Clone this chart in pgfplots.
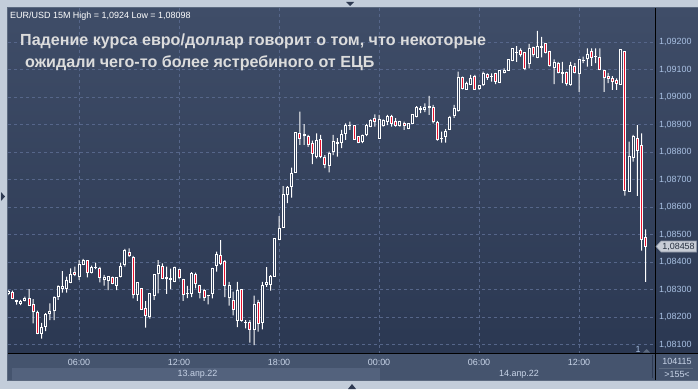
\documentclass[border=0pt]{standalone}
\usepackage{pgfplots}
\pgfplotsset{compat=1.18}
\usepackage{pgfplotstable}
\usepackage{fontspec}
\setmainfont{Liberation Sans}

\definecolor{framec}{HTML}{C3CDDA}
\definecolor{framebd}{HTML}{5C6A80}
\definecolor{plottop}{HTML}{3F4D68}
\definecolor{plotbot}{HTML}{2B3852}
\definecolor{panelc}{HTML}{45546E}
\definecolor{datebandc}{HTML}{53627D}
\definecolor{gridc}{HTML}{56668A}
\definecolor{candlered}{HTML}{E8112D}
\definecolor{hollowc}{HTML}{34425D}
\definecolor{ticklbl}{HTML}{A9C1E3}
\definecolor{timelbl}{HTML}{C8D4E8}
\definecolor{notec}{HTML}{DCDCDC}
\definecolor{tagc}{HTML}{C8CDD6}
\definecolor{tagbd}{HTML}{8A94A4}
\definecolor{tagtext}{HTML}{263040}
\definecolor{arrowc}{HTML}{2E3A52}

% 15-minute candles, index i = quarter hours from 13 Apr 00:00
\pgfplotstableread{
i O H L C
7 1.08287 1.08298 1.08280 1.08291
8 1.08289 1.08296 1.08265 1.08268
9 1.08261 1.08262 1.08245 1.08257
10 1.08250 1.08262 1.08243 1.08258
11 1.08259 1.08274 1.08257 1.08268
12 1.08268 1.08301 1.08243 1.08243
13 1.08244 1.08265 1.08177 1.08219
14 1.08218 1.08223 1.08138 1.08141
15 1.08141 1.08179 1.08121 1.08163
16 1.08165 1.08214 1.08149 1.08210
17 1.08212 1.08250 1.08189 1.08219
18 1.08222 1.08275 1.08189 1.08272
19 1.08274 1.08315 1.08262 1.08312
20 1.08303 1.08367 1.08289 1.08312
21 1.08304 1.08347 1.08289 1.08331
22 1.08325 1.08377 1.08323 1.08356
23 1.08363 1.08383 1.08349 1.08354
24 1.08347 1.08407 1.08335 1.08390
25 1.08392 1.08411 1.08389 1.08407
26 1.08405 1.08407 1.08344 1.08363
27 1.08363 1.08387 1.08359 1.08381
28 1.08379 1.08398 1.08374 1.08381
29 1.08378 1.08382 1.08326 1.08343
30 1.08335 1.08353 1.08314 1.08344
31 1.08334 1.08349 1.08298 1.08349
32 1.08343 1.08347 1.08320 1.08323
33 1.08314 1.08343 1.08298 1.08343
34 1.08347 1.08398 1.08344 1.08384
35 1.08392 1.08448 1.08383 1.08443
36 1.08433 1.08450 1.08419 1.08422
37 1.08418 1.08422 1.08268 1.08283
38 1.08283 1.08325 1.08259 1.08325
39 1.08304 1.08304 1.08226 1.08228
40 1.08232 1.08258 1.08161 1.08207
41 1.08201 1.08286 1.08194 1.08284
42 1.08277 1.08356 1.08262 1.08356
43 1.08359 1.08407 1.08286 1.08387
44 1.08382 1.08395 1.08338 1.08341
45 1.08340 1.08383 1.08284 1.08342
46 1.08339 1.08376 1.08301 1.08338
47 1.08328 1.08383 1.08327 1.08381
48 1.08374 1.08375 1.08339 1.08342
49 1.08338 1.08339 1.08259 1.08283
50 1.08286 1.08313 1.08269 1.08287
51 1.08287 1.08363 1.08272 1.08359
52 1.08353 1.08361 1.08304 1.08323
53 1.08315 1.08317 1.08268 1.08290
54 1.08298 1.08302 1.08259 1.08272
55 1.08278 1.08280 1.08246 1.08277
56 1.08284 1.08379 1.08268 1.08377
57 1.08387 1.08438 1.08365 1.08426
58 1.08422 1.08480 1.08389 1.08395
59 1.08403 1.08407 1.08272 1.08313
60 1.08270 1.08328 1.08241 1.08315
61 1.08259 1.08292 1.08206 1.08228
62 1.08189 1.08328 1.08163 1.08298
63 1.08299 1.08301 1.08183 1.08189
64 1.08180 1.08189 1.08159 1.08179
65 1.08179 1.08189 1.08107 1.08155
66 1.08153 1.08278 1.08098 1.08244
67 1.08251 1.08262 1.08147 1.08177
68 1.08181 1.08328 1.08155 1.08315
69 1.08320 1.08381 1.08310 1.08325
70 1.08317 1.08352 1.08296 1.08349
71 1.08349 1.08486 1.08349 1.08484
72 1.08483 1.08567 1.08480 1.08523
73 1.08525 1.08676 1.08525 1.08646
74 1.08644 1.08676 1.08614 1.08672
75 1.08674 1.08743 1.08634 1.08723
76 1.08725 1.08872 1.08725 1.08872
77 1.08869 1.08947 1.08826 1.08850
78 1.08860 1.08901 1.08826 1.08862
79 1.08858 1.08862 1.08819 1.08826
80 1.08832 1.08841 1.08756 1.08795
81 1.08783 1.08868 1.08777 1.08841
82 1.08846 1.08862 1.08778 1.08783
83 1.08779 1.08789 1.08741 1.08756
84 1.08750 1.08801 1.08726 1.08795
85 1.08801 1.08862 1.08789 1.08838
86 1.08830 1.08850 1.08783 1.08834
87 1.08834 1.08880 1.08814 1.08862
88 1.08868 1.08904 1.08844 1.08895
89 1.08895 1.08910 1.08880 1.08897
90 1.08895 1.08898 1.08846 1.08847
91 1.08856 1.08858 1.08832 1.08835
92 1.08838 1.08863 1.08832 1.08861
93 1.08862 1.08902 1.08858 1.08898
94 1.08892 1.08919 1.08890 1.08916
95 1.08923 1.08937 1.08892 1.08910
96 1.08850 1.08935 1.08850 1.08920
97 1.08898 1.08919 1.08892 1.08914
98 1.08910 1.08935 1.08898 1.08928
99 1.08928 1.08935 1.08892 1.08902
100 1.08910 1.08923 1.08892 1.08895
101 1.08895 1.08913 1.08892 1.08910
102 1.08904 1.08910 1.08880 1.08895
103 1.08886 1.08904 1.08883 1.08902
104 1.08904 1.08938 1.08902 1.08935
105 1.08928 1.08967 1.08926 1.08963
106 1.08957 1.08967 1.08941 1.08955
107 1.08956 1.08977 1.08945 1.08960
108 1.08962 1.09004 1.08935 1.08967
109 1.08963 1.08971 1.08904 1.08910
110 1.08908 1.08913 1.08841 1.08844
111 1.08848 1.08874 1.08834 1.08850
112 1.08856 1.08883 1.08834 1.08876
113 1.08883 1.08931 1.08880 1.08927
114 1.08932 1.08971 1.08924 1.08957
115 1.08950 1.09092 1.08947 1.09070
116 1.09070 1.09074 1.09028 1.09032
117 1.09028 1.09056 1.09026 1.09050
118 1.09047 1.09080 1.09044 1.09068
119 1.09074 1.09080 1.09026 1.09028
120 1.09030 1.09044 1.09026 1.09040
121 1.09044 1.09092 1.09040 1.09086
122 1.09080 1.09086 1.09062 1.09072
123 1.09073 1.09086 1.09056 1.09074
124 1.09084 1.09088 1.09047 1.09058
125 1.09053 1.09098 1.09050 1.09095
126 1.09090 1.09104 1.09086 1.09098
127 1.09098 1.09137 1.09096 1.09135
128 1.09132 1.09177 1.09130 1.09175
129 1.09163 1.09185 1.09128 1.09161
130 1.09168 1.09177 1.09147 1.09154
131 1.09161 1.09163 1.09098 1.09104
132 1.09123 1.09193 1.09104 1.09177
133 1.09181 1.09183 1.09147 1.09156
134 1.09144 1.09240 1.09141 1.09185
135 1.09181 1.09219 1.09144 1.09183
136 1.09193 1.09195 1.09159 1.09161
137 1.09165 1.09168 1.09110 1.09113
138 1.09108 1.09137 1.09047 1.09125
139 1.09123 1.09128 1.09086 1.09088
140 1.09086 1.09128 1.09050 1.09088
141 1.09088 1.09092 1.09041 1.09050
142 1.09047 1.09128 1.09041 1.09114
143 1.09110 1.09123 1.09086 1.09088
144 1.09086 1.09137 1.09019 1.09135
145 1.09133 1.09147 1.09123 1.09132
146 1.09141 1.09177 1.09110 1.09155
147 1.09165 1.09177 1.09113 1.09144
148 1.09146 1.09177 1.09123 1.09147
149 1.09144 1.09177 1.09098 1.09101
150 1.09098 1.09098 1.09019 1.09072
151 1.09076 1.09088 1.09050 1.09068
152 1.09068 1.09076 1.09026 1.09056
153 1.09061 1.09068 1.09026 1.09050
154 1.09046 1.09173 1.09044 1.09173
155 1.09165 1.09165 1.08641 1.08659
156 1.08656 1.08838 1.08656 1.08785
157 1.08781 1.08862 1.08765 1.08856
158 1.08850 1.08898 1.08640 1.08804
159 1.08824 1.08868 1.08441 1.08483
160 1.08488 1.08519 1.08328 1.08458
}\candles

\pgfplotsset{candleaxis/.style={
  at={(8bp,35.5bp)}, anchor=south west,
  width=647.5bp, height=345.5bp, scale only axis,
  xmin=6.96, xmax=162.36,
  % y values are plotted as price - 1.08
  ymin=0.0006727, ymax=0.0132364,
  scaled y ticks=false, scaled x ticks=false,
  ybar stacked}}

\begin{document}
\begin{tikzpicture}[x=1bp,y=1bp]
\useasboundingbox (0,0) rectangle (698,389);
\fill[framec] (0,0) rectangle (698,389);
\shade[top color=plottop, bottom color=plotbot] (8,35.5) rectangle (698,381);
\fill[panelc] (8,9) rectangle (698,35.5);
\fill[datebandc] (12,9) rectangle (380,21);
\draw[framebd, line width=1bp] (7.5,8.5) rectangle (698.5,381.5);

% axis with grid, labels and wicks
\begin{axis}[candleaxis,
  axis line style={draw=none},
  major tick length=0pt,
  xtick={24,48,72,96,120,144},
  xticklabels={06:00,12:00,18:00,00:00,06:00,12:00},
  xticklabel style={font=\fontsize{9}{10}\selectfont, text=timelbl, anchor=north, inner sep=0pt, yshift=-5.8bp},
  ytick={0.001,0.002,0.003,0.004,0.005,0.006,0.007,0.008,0.009,0.010,0.011,0.012},
  yticklabels={{1,08100},{1,08200},{1,08300},{1,08400},{1,08500},{1,08600},{1,08700},{1,08800},{1,08900},{1,09000},{1,09100},{1,09200}},
  yticklabel pos=right,
  yticklabel style={font=\fontsize{9}{10}\selectfont, text=ticklbl, anchor=west, inner sep=0pt, xshift=3.5bp},
  grid=major,
  grid style={gridc, dash pattern=on 3bp off 3bp, line width=0.8bp},
  bar width=1bp]
\addplot[draw=none, fill=none] table[x=i, y expr=\thisrow{L}-1.08]{\candles};
\addplot[draw=none, fill=white] table[x=i, y expr=\thisrow{H}-\thisrow{L}]{\candles};
\end{axis}

% candle bodies
\begin{axis}[candleaxis, hide axis, bar width=2bp]
\addplot[draw=none, fill=none] table[x=i, y expr={min(\thisrow{O},\thisrow{C})-1.08}]{\candles};
\addplot[draw=white, fill=hollowc, line width=1bp] table[x=i, y expr={max(\thisrow{C}-\thisrow{O},0)}]{\candles};
\addplot[draw=white, fill=candlered, line width=1bp] table[x=i, y expr={max(\thisrow{O}-\thisrow{C},0)}]{\candles};
\end{axis}

\draw[black, line width=1bp] (8,35.5) -- (698,35.5);
\draw[black, line width=1bp] (655.5,9) -- (655.5,381);
\draw[arrowc, line width=1bp] (652,11) -- (652,34);

\node[anchor=base west, inner sep=0pt, font=\fontsize{9}{10}\selectfont, text=white] at (10,370.7) {EUR/USD 15M High = 1,0924 Low = 1,08098};
\node[anchor=base west, inner sep=0pt, font=\bfseries\fontsize{16.15}{18}\selectfont, text=notec] at (20,343.5) {Падение курса евро/доллар говорит о том, что некоторые};
\node[anchor=base west, inner sep=0pt, font=\bfseries\fontsize{16.15}{18}\selectfont, text=notec] at (25,321.3) {ожидали чего-то более ястребиного от ЕЦБ};

\filldraw[fill=tagc, draw=tagbd, line width=0.6bp] (656,142.5) -- (661,148) -- (696.5,148) -- (696.5,137) -- (661,137) -- cycle;
\node[inner sep=0pt, font=\fontsize{9}{10}\selectfont, text=tagtext] at (678.5,142.5) {1,08458};

\node[inner sep=0pt, font=\fontsize{9}{10}\selectfont, text=timelbl] at (677,27.5) {104115};
\draw[framebd, line width=0.8bp] (659,20.7) -- (693,20.7);
\node[inner sep=0pt, font=\fontsize{9}{10}\selectfont, text=timelbl] at (677,14.5) {>155<};

\node[inner sep=0pt, font=\fontsize{9}{10}\selectfont, text=timelbl] at (197.5,15) {13.апр.22};
\node[inner sep=0pt, font=\fontsize{9}{10}\selectfont, text=timelbl] at (519,15) {14.апр.22};

\node[inner sep=0pt, font=\fontsize{9}{10}\selectfont, text=ticklbl] at (638,39.5) {1};
\fill[framebd] (643,36.5) -- (650,36.5) -- (646.5,40) -- cycle;

\fill[arrowc] (346,387) -- (354,387) -- (350,383) -- cycle;
\fill[arrowc] (348,0) -- (356,0) -- (352,5) -- cycle;
\fill[arrowc] (1,197) -- (1,188) -- (5,192.5) -- cycle;
\end{tikzpicture}
\end{document}
